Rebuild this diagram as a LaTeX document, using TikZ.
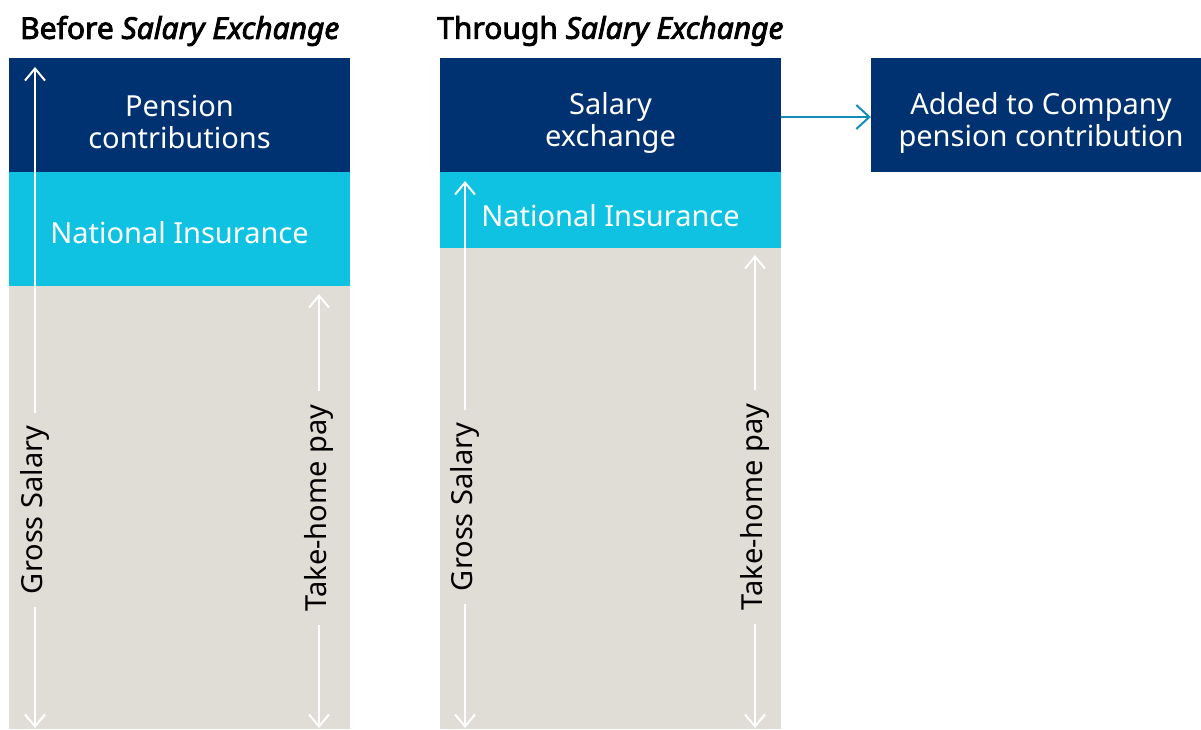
\documentclass[tikz,border=0pt]{standalone}
\usepackage{fontspec}
\setmainfont{Noto Sans}[BoldFont={Noto Sans},BoldFeatures={FakeBold=2.8},
  BoldItalicFont={* Italic},BoldItalicFeatures={FakeBold=2.8}]
\usetikzlibrary{arrows.meta}

\definecolor{navy}{RGB}{0,50,113}
\definecolor{niblue}{RGB}{16,194,226}
\definecolor{paygrey}{RGB}{224,220,214}
\definecolor{linkteal}{RGB}{20,140,184}

\tikzset{
  band/.style={fill=#1,draw=none,inner sep=0pt},
  bandtext/.style={text=white,align=center,inner sep=0pt,
    font=\fontsize{29}{32}\selectfont},
  sidelabel/.style={rotate=90,inner xsep=13pt,inner ysep=0pt,text=black,
    font=\fontsize{29}{33}\selectfont},
  whitearrow/.style={draw=white,line width=2pt,
    -{Straight Barb[length=12pt,width=20pt,line width=2pt]}},
  title/.style={anchor=west,inner sep=0pt,font=\bfseries\fontsize{30}{32}\selectfont}
}

\begin{document}
\begin{tikzpicture}[x=1pt,y=1pt]
	\useasboundingbox (0,0) rectangle (1201,729);

	%Titel
	\node[title] (before) at (20,698) {Before \textit{Salary Exchange}};
	\node[title] (through) at (437,698) {Through \textit{Salary Exchange}};

	%Spalte vorher
	\fill[paygrey] (9,0) rectangle (350,443);
	\node[band=niblue,minimum width=341pt,minimum height=114pt] (nileft) at (179.5,500) {};
	\node[band=navy,minimum width=341pt,minimum height=114pt] (pension) at (179.5,614) {};
	\node[bandtext] (nilefttext) at ([yshift=-4pt]nileft.center) {National Insurance};
	\node[bandtext] (pensiontext) at ([yshift=-7pt]pension.center) {Pension\\contributions};

	%Spalte mit Salary Exchange
	\fill[paygrey] (440,0) rectangle (781,481);
	\node[band=niblue,minimum width=341pt,minimum height=76pt] (niright) at (610.5,519) {};
	\node[band=navy,minimum width=341pt,minimum height=114pt] (exchange) at (610.5,614) {};
	\node[band=navy,minimum width=330pt,minimum height=114pt] (added) at (1036,614) {};
	\node[bandtext] (nirighttext) at ([yshift=-6pt]niright.center) {National Insurance};
	\node[bandtext] (exchangetext) at ([yshift=-8pt]exchange.center) {Salary\\exchange};
	\node[bandtext] (addedtext) at ([xshift=5pt,yshift=-8pt]added.center) {Added to Company\\pension contribution};
	\draw[linkteal,line width=2pt,-{Straight Barb[length=13pt,width=24pt,line width=2pt]}] (exchange.east |- 0,612) -- (added.west |- 0,612);

	%Pfeile zeichnen
	\foreach \nm/\x/\top/\mid/\txt in
		{gl/35/662/219/Gross Salary,tl/319/435/221/Take-home pay,gr/465/548/222/Gross Salary,tr/755/474/222/Take-home pay}
		{
		\node[sidelabel] (\nm) at (\x,\mid) {\txt};
		\coordinate (\nm top) at (\x,\top);
		\coordinate (\nm bot) at (\x,1);
		\draw[whitearrow] (\nm) -- (\nm top);
		\draw[whitearrow] (\nm) -- (\nm bot);
		}
\end{tikzpicture}
\end{document}
